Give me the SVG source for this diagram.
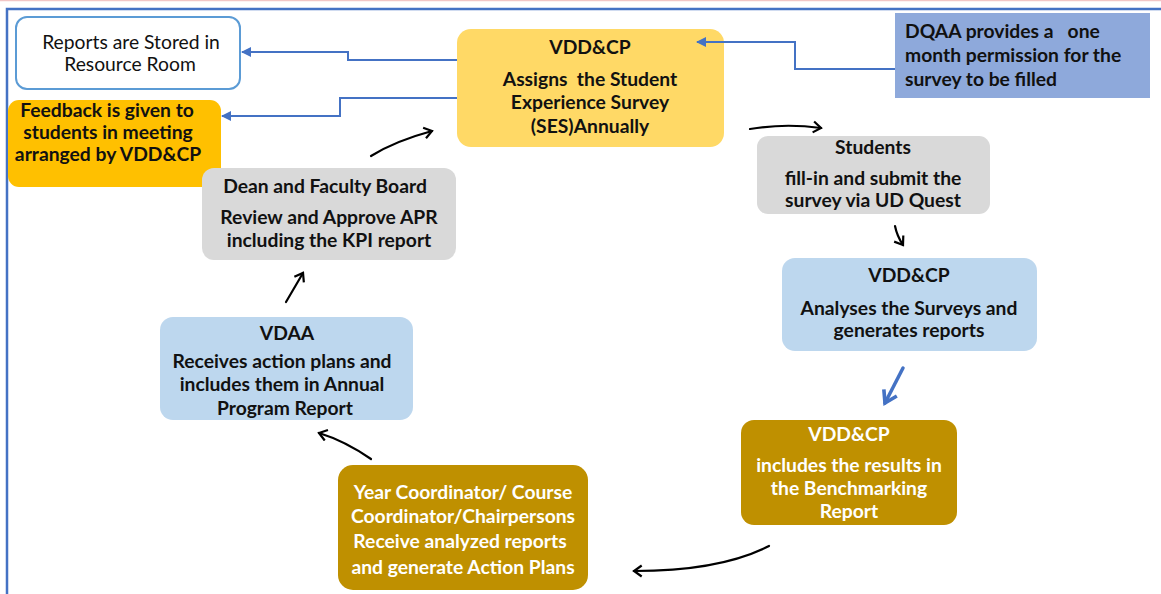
<svg xmlns="http://www.w3.org/2000/svg" width="1161" height="594" viewBox="0 0 1161 594">
<style>
text{font-family:Lato,"Liberation Sans",sans-serif;font-size:19.3px;text-anchor:middle;fill:#111}
.b{font-weight:bold}
.w{fill:#fff}
.l{text-anchor:start}
.blue{fill:none;stroke:#4472C4;stroke-width:2}
.blk{fill:none;stroke:#000;stroke-width:2.2;stroke-linecap:round}
</style>
<defs>
<marker id="ab" viewBox="0 0 10 10" refX="9" refY="5" markerWidth="5" markerHeight="5" orient="auto" markerUnits="strokeWidth">
<path d="M0,0 L10,5 L0,10 z" fill="#4472C4"/>
</marker>
<marker id="ak" viewBox="0 0 12 12" refX="10" refY="6" markerWidth="6" markerHeight="6" orient="auto" markerUnits="strokeWidth">
<path d="M3,1 L10,6 L3,11" fill="none" stroke="#000" stroke-width="2"/>
</marker>
<marker id="akb" viewBox="0 0 12 12" refX="10" refY="6" markerWidth="5" markerHeight="5" orient="auto" markerUnits="strokeWidth">
<path d="M2,1 L10,6 L2,11" fill="none" stroke="#4472C4" stroke-width="2.5"/>
</marker>
</defs>
<rect width="1161" height="594" fill="#fff"/>
<line x1="0" y1="0.5" x2="1161" y2="0.5" stroke="#F2C6C6" stroke-width="1.5"/>
<path d="M1161,9 H7 V594" fill="none" stroke="#4472C4" stroke-width="2.5"/>

<g id="n-reports">
<rect x="16" y="17" width="224" height="72" rx="11" fill="#fff" stroke="#5B9BD5" stroke-width="2"/>
<text x="131" y="49">Reports are Stored in</text>
<text x="130" y="71">Resource Room</text>
</g>

<g id="n-feedback">
<rect x="8" y="100" width="213" height="87" rx="11" fill="#FFC000"/>
<text class="b" x="107" y="117">Feedback is given to</text>
<text class="b" x="108" y="139">students in meeting</text>
<text class="b" x="108" y="161">arranged by VDD&amp;CP</text>
</g>

<g id="n-assign">
<rect x="457" y="29" width="267" height="118" rx="14" fill="#FFD966"/>
<text class="b" x="590" y="54">VDD&amp;CP</text>
<text class="b" x="590" y="86" xml:space="preserve">Assigns  the Student</text>
<text class="b" x="590" y="109">Experience Survey</text>
<text class="b" x="590" y="133">(SES)Annually</text>
</g>

<g id="n-dqaa">
<rect x="895" y="13" width="255" height="85" fill="#8EA9DB"/>
<text class="b l" x="905" y="38" xml:space="preserve">DQAA provides a   one</text>
<text class="b l" x="905" y="62">month permission for the</text>
<text class="b l" x="905" y="86">survey to be filled</text>
</g>

<g id="n-students">
<rect x="757" y="136" width="233" height="78" rx="11" fill="#D9D9D9"/>
<text class="b" x="873" y="154">Students</text>
<text class="b" x="873" y="185">fill-in and submit the</text>
<text class="b" x="873" y="207">survey via UD Quest</text>
</g>

<g id="n-analyses">
<rect x="782" y="258" width="255" height="93" rx="13" fill="#BDD7EE"/>
<text class="b" x="909" y="282">VDD&amp;CP</text>
<text class="b" x="909" y="315">Analyses the Surveys and</text>
<text class="b" x="909" y="337">generates reports</text>
</g>

<g id="n-bench">
<rect x="741" y="420" width="216" height="105" rx="13" fill="#BF9000"/>
<text class="b w" x="849" y="441">VDD&amp;CP</text>
<text class="b w" x="849" y="472">includes the results in</text>
<text class="b w" x="849" y="495">the Benchmarking</text>
<text class="b w" x="849" y="518">Report</text>
</g>

<g id="n-year">
<rect x="338" y="465" width="250" height="125" rx="15" fill="#BF9000"/>
<text class="b w" x="463" y="499">Year Coordinator/ Course</text>
<text class="b w" x="463" y="523">Coordinator/Chairpersons</text>
<text class="b w" x="460" y="548">Receive analyzed reports</text>
<text class="b w" x="463" y="574">and generate Action Plans</text>
</g>

<g id="n-vdaa">
<rect x="160" y="317" width="253" height="103" rx="13" fill="#BDD7EE"/>
<text class="b" x="287" y="340">VDAA</text>
<text class="b" x="282" y="368">Receives action plans and</text>
<text class="b" x="282" y="391">includes them in Annual</text>
<text class="b" x="285" y="415">Program Report</text>
</g>

<g id="n-dean">
<rect x="202" y="168" width="254" height="92" rx="12" fill="#D9D9D9"/>
<text class="b" x="325" y="193">Dean and Faculty Board</text>
<text class="b" x="329" y="224">Review and Approve APR</text>
<text class="b" x="329" y="247">including the KPI report</text>
</g>

<g id="connectors">
<path class="blue" d="M457,60 H348 V52 H242" marker-end="url(#ab)"/>
<path class="blue" d="M457,98 H340 V116 H222" marker-end="url(#ab)"/>
<path class="blue" d="M895,69 H795 V42 H697" marker-end="url(#ab)"/>
<path class="blk" d="M750,129 Q785,123 821,128" marker-end="url(#ak)"/>
<path class="blk" d="M895,226 Q897,236 903,245" stroke-width="1.6" marker-end="url(#ak)"/>
<path d="M903,368 L885,403" fill="none" stroke="#4472C4" stroke-width="3.5" stroke-linecap="round" marker-end="url(#akb)"/>
<path class="blk" d="M769,546 Q720,571 634,571" marker-end="url(#ak)"/>
<path class="blk" d="M371,459 Q345,441 319,433" marker-end="url(#ak)"/>
<path class="blk" d="M286,302 L303,273" marker-end="url(#ak)"/>
<path class="blk" d="M371,156 Q395,141 432,131" marker-end="url(#ak)"/>
</g>
</svg>
